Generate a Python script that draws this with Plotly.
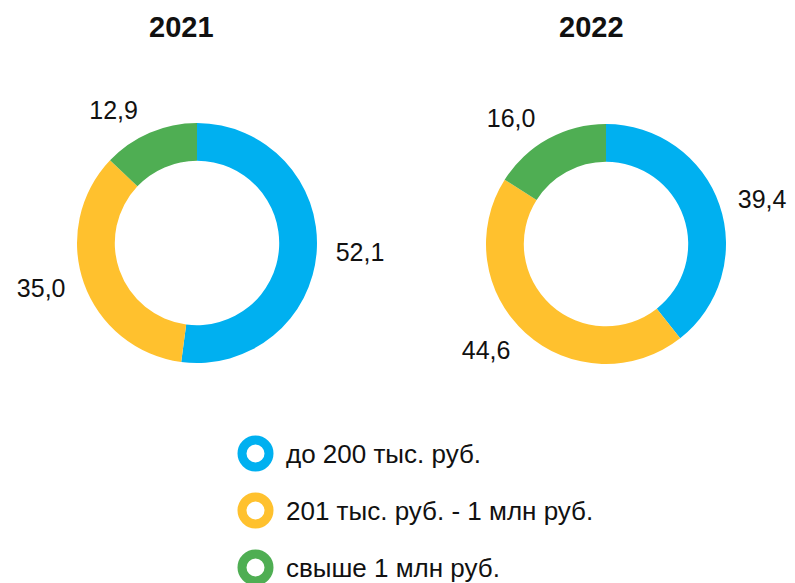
import plotly.graph_objects as go

categories = ["до 200 тыс. руб.", "201 тыс. руб. - 1 млн руб.", "свыше 1 млн руб."]
years = ["2021", "2022"]
values_2021 = [52.1, 35.0, 12.9]
values_2022 = [39.4, 44.6, 16.0]
colors = ["#00B0F0", "#FFC12E", "#4FAE53"]

W, H = 795, 583
FONT = "Liberation Sans, Arial, sans-serif"


def fmt(v):
    return f"{v:.1f}".replace(".", ",")


def box_domain(cx, cy, r):
    return dict(x=[(cx - r) / W, (cx + r) / W], y=[1 - (cy + r) / H, 1 - (cy - r) / H])


# pie centres (pixels) and radii
centres = [(197, 243), (606, 244)]
RING_R = 120
LABEL_R = 132

fig = go.Figure()
for vals, (cx, cy) in zip([values_2021, values_2022], centres):
    # visible ring
    fig.add_trace(go.Pie(
        labels=categories,
        values=vals,
        textinfo="none",
        marker=dict(colors=colors, line=dict(width=0)),
        hole=0.685,
        sort=False,
        direction="clockwise",
        rotation=0,
        showlegend=False,
        hoverinfo="label+value",
        domain=box_domain(cx, cy, RING_R),
    ))
    # transparent copy used only to place the value labels a bit further out
    fig.add_trace(go.Pie(
        labels=categories,
        values=vals,
        text=[fmt(v) for v in vals],
        textinfo="text",
        textposition="outside",
        textfont=dict(family=FONT, size=25, color="#111111"),
        marker=dict(colors=["rgba(0,0,0,0)"] * len(vals), line=dict(width=0)),
        hole=0.99,
        sort=False,
        direction="clockwise",
        rotation=0,
        showlegend=False,
        hoverinfo="skip",
        domain=box_domain(cx, cy, LABEL_R),
    ))

# legend drawn as scatter on hidden axes
idx = list(range(len(categories)))
fig.add_trace(go.Scatter(
    x=[0] * len(categories),
    y=idx,
    mode="markers",
    marker=dict(size=27, color="white", line=dict(width=9, color=colors)),
    showlegend=False,
    hoverinfo="skip",
    cliponaxis=False,
))

legend_x0 = 255.5
legend_y0 = 453.5
legend_step = 57
fig.update_xaxes(visible=False, range=[-legend_x0, W - legend_x0], domain=[0, 1], fixedrange=True)
fig.update_yaxes(visible=False,
                 range=[(H - legend_y0) / legend_step, -legend_y0 / legend_step],
                 domain=[0, 1], fixedrange=True)

annotations = []
for i, c in zip(idx, categories):
    annotations.append(dict(
        x=0, y=i, xref="x", yref="y", text=c, showarrow=False,
        xanchor="left", yanchor="middle", xshift=28,
        font=dict(family=FONT, size=26, color="#111111"),
    ))

title_centers = [181, 591]
for yr, cx in zip(years, title_centers):
    annotations.append(dict(
        x=cx / W, y=1 - 27 / H, xref="paper", yref="paper", text=f"<b>{yr}</b>",
        showarrow=False, xanchor="center", yanchor="middle",
        font=dict(family=FONT, size=29, color="#111111"),
    ))

fig.update_layout(
    width=W, height=H,
    margin=dict(l=0, r=0, t=0, b=0),
    paper_bgcolor="white", plot_bgcolor="white",
    annotations=annotations,
    showlegend=False,
)

fig.write_html("out.html", config={"displayModeBar": False},
               post_script="document.body.style.margin='0px';")
